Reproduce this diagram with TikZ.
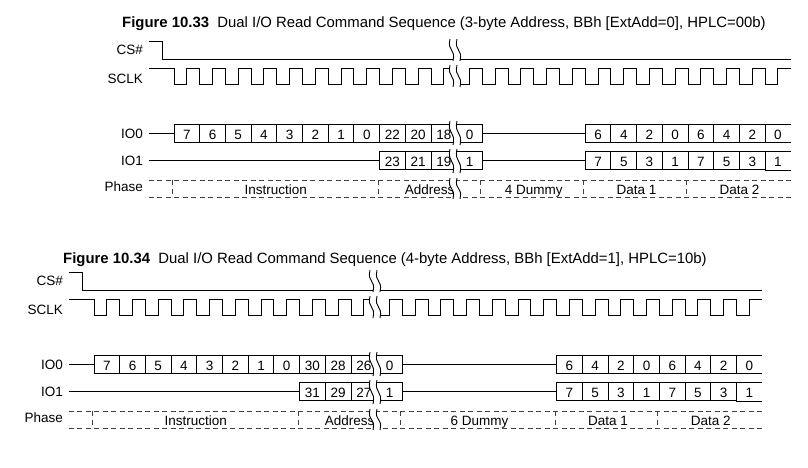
\documentclass[tikz,border=0pt]{standalone}
\usepackage{fontspec}
\setmainfont{Liberation Sans}
\usetikzlibrary{positioning}

% double squiggle that cuts a signal row: x, top, height
\newcommand{\timebreak}[3]{%
  \begin{scope}[shift={(#1,#2)}]
    \fill[white] (-5,0) .. controls (-8,0.6*#3) and (1,0.4*#3) .. (-2,#3)
      -- (5,#3) .. controls (8,0.4*#3) and (-1,0.6*#3) .. (2,0) -- cycle;
    \draw[line width=0.9pt] (-5,0) .. controls (-8,0.6*#3) and (1,0.4*#3) .. (-2,#3);
    \draw[line width=0.9pt] (2,0) .. controls (-1,0.6*#3) and (8,0.4*#3) .. (5,#3);
  \end{scope}}

\begin{document}
\begin{tikzpicture}[x=1pt,y=-1pt,
  font=\fontsize{13.5}{16}\selectfont,
  sig/.style={line width=1pt},
  lbl/.style={anchor=base east,inner sep=0pt},
  txt/.style={anchor=base,inner sep=0pt},
  ttl/.style={anchor=base west,inner sep=0pt,font=\fontsize{14.9}{18}\selectfont},
  bit/.style={draw,line width=1pt,minimum width=25.7pt,minimum height=18.3pt,
    inner sep=0pt,text height=11.7pt,text depth=0pt},
  bitopen/.style={bit,draw=none},
  phs/.style={line width=1pt,black!75,dash pattern=on 5pt off 3.5pt}
]
\def\clk{25.7}
\useasboundingbox (0,0) rectangle (808,467);

% ---- Figure 10.33
\node[ttl] (title1) at (122,27)
  {\textbf{Figure 10.33}\hspace{0.55em}Dual I/O Read Command Sequence (3-byte Address, BBh [ExtAdd=0], HPLC=00b)};
\begin{scope}[shift={(174,0)}]
\node[lbl] (cs1) at (-31,54) {CS\#};
\node[lbl] (sclk1) at (-31,83) {SCLK};
\node[lbl] (io0-1) at (-31,138.3) {IO0};
\node[lbl] (io1-1) at (-31,165.7) {IO1};
\node[lbl] (ph1) at (-31,191.7) {Phase};
\draw[sig] (-25.5,41) -- (-12,41) -- (-12,59.5) -- (24*\clk,59.5);
\draw[sig] (-25.5,68.5) -- (0,68.5) -- (0,84.5)
  \foreach \k in {0,...,22} {-- ({(\k+.5)*\clk},84.5) -- ({(\k+.5)*\clk},68.5)
    -- ({(\k+1)*\clk},68.5) -- ({(\k+1)*\clk},84.5)}
  -- (23.5*\clk,84.5) -- (23.5*\clk,68.5) -- (24*\clk,68.5);
% IO0
\foreach \b [count=\k from 0] in {7,6,5,4,3,2,1,0,22,20,18,0}
  \node[bit] (a1-\k) at ({(\k+.5)*\clk},133.2) {\b};
\foreach \b [count=\k from 16] in {6,4,2,0,6,4,2}
  \node[bit] (a1-\k) at ({(\k+.5)*\clk},133.2) {\b};
\node[bitopen] (a1-23) at (23.5*\clk,133.2) {0};
\draw[sig] (24*\clk,124) -- (23*\clk,124) -- (23*\clk,142.4) -- (24*\clk,142.4);
\draw[sig] (-25.5,133.2) -- (a1-0.west);
\draw[sig] (a1-11.east) -- (a1-16.west);
% IO1
\foreach \b [count=\k from 8] in {23,21,19,1}
  \node[bit] (b1-\k) at ({(\k+.5)*\clk},160.8) {\b};
\foreach \b [count=\k from 16] in {7,5,3,1,7,5,3}
  \node[bit] (b1-\k) at ({(\k+.5)*\clk},160.8) {\b};
\node[bitopen] (b1-23) at (23.5*\clk,160.8) {1};
\draw[sig] (24*\clk,151.6) -- (23*\clk,151.6) -- (23*\clk,170) -- (24*\clk,170);
\draw[sig] (-25.5,160.8) -- (b1-8.west);
\draw[sig] (b1-11.east) -- (b1-16.west);
% Phase
\draw[phs] (-25.5,180) -- (24*\clk,180) (-25.5,197) -- (24*\clk,197);
\foreach \t in {0,8,12,16,20}
  \draw[phs] (\t*\clk-1.5,180) -- (\t*\clk-1.5,197);
\node[txt] (ins1) at (4*\clk-1,194) {Instruction};
\node[txt] (adr1) at (9.95*\clk,194) {Address};
\node[txt] (dum1) at (14*\clk,194) {4 Dummy};
\node[txt] (dat1-1) at (18*\clk,194) {Data 1};
\node[txt] (dat1-2) at (22*\clk,194) {Data 2};
% breaks
\timebreak{281}{39}{22}
\timebreak{281}{65}{22}
\timebreak{281}{121}{24}
\timebreak{281}{149}{24}
\timebreak{281}{178}{21}
\end{scope}

% ---- Figure 10.34
\node[ttl] (title2) at (63,263)
  {\textbf{Figure 10.34}\hspace{0.55em}Dual I/O Read Command Sequence (4-byte Address, BBh [ExtAdd=1], HPLC=10b)};
\begin{scope}[shift={(94,231)}]
\node[lbl] (cs2) at (-31,54) {CS\#};
\node[lbl] (sclk2) at (-31,83) {SCLK};
\node[lbl] (io0-2) at (-31,138.3) {IO0};
\node[lbl] (io1-2) at (-31,165.7) {IO1};
\node[lbl] (ph2) at (-31,191.7) {Phase};
\draw[sig] (-25.5,41) -- (-12,41) -- (-12,59.5) -- (26*\clk,59.5);
\draw[sig] (-25.5,68.5) -- (0,68.5) -- (0,84.5)
  \foreach \k in {0,...,24} {-- ({(\k+.5)*\clk},84.5) -- ({(\k+.5)*\clk},68.5)
    -- ({(\k+1)*\clk},68.5) -- ({(\k+1)*\clk},84.5)}
  -- (25.5*\clk,84.5) -- (25.5*\clk,68.5) -- (26*\clk,68.5);
% IO0
\foreach \b [count=\k from 0] in {7,6,5,4,3,2,1,0,30,28,26,0}
  \node[bit] (a2-\k) at ({(\k+.5)*\clk},133.2) {\b};
\foreach \b [count=\k from 18] in {6,4,2,0,6,4,2}
  \node[bit] (a2-\k) at ({(\k+.5)*\clk},133.2) {\b};
\node[bitopen] (a2-25) at (25.5*\clk,133.2) {0};
\draw[sig] (26*\clk,124) -- (25*\clk,124) -- (25*\clk,142.4) -- (26*\clk,142.4);
\draw[sig] (-25.5,133.2) -- (a2-0.west);
\draw[sig] (a2-11.east) -- (a2-18.west);
% IO1
\foreach \b [count=\k from 8] in {31,29,27,1}
  \node[bit] (b2-\k) at ({(\k+.5)*\clk},160.8) {\b};
\foreach \b [count=\k from 18] in {7,5,3,1,7,5,3}
  \node[bit] (b2-\k) at ({(\k+.5)*\clk},160.8) {\b};
\node[bitopen] (b2-25) at (25.5*\clk,160.8) {1};
\draw[sig] (26*\clk,151.6) -- (25*\clk,151.6) -- (25*\clk,170) -- (26*\clk,170);
\draw[sig] (-25.5,160.8) -- (b2-8.west);
\draw[sig] (b2-11.east) -- (b2-18.west);
% Phase
\draw[phs] (-25.5,180) -- (26*\clk,180) (-25.5,197) -- (26*\clk,197);
\foreach \t in {0,8,12,18,22}
  \draw[phs] (\t*\clk-1.5,180) -- (\t*\clk-1.5,197);
\node[txt] (ins2) at (4*\clk-1,194) {Instruction};
\node[txt] (adr2) at (9.95*\clk,194) {Address};
\node[txt] (dum2) at (15*\clk,194) {6 Dummy};
\node[txt] (dat2-1) at (20*\clk,194) {Data 1};
\node[txt] (dat2-2) at (24*\clk,194) {Data 2};
% breaks
\timebreak{281}{39}{22}
\timebreak{281}{65}{22}
\timebreak{281}{121}{24}
\timebreak{281}{149}{24}
\timebreak{281}{178}{21}
\end{scope}
\end{tikzpicture}
\end{document}
